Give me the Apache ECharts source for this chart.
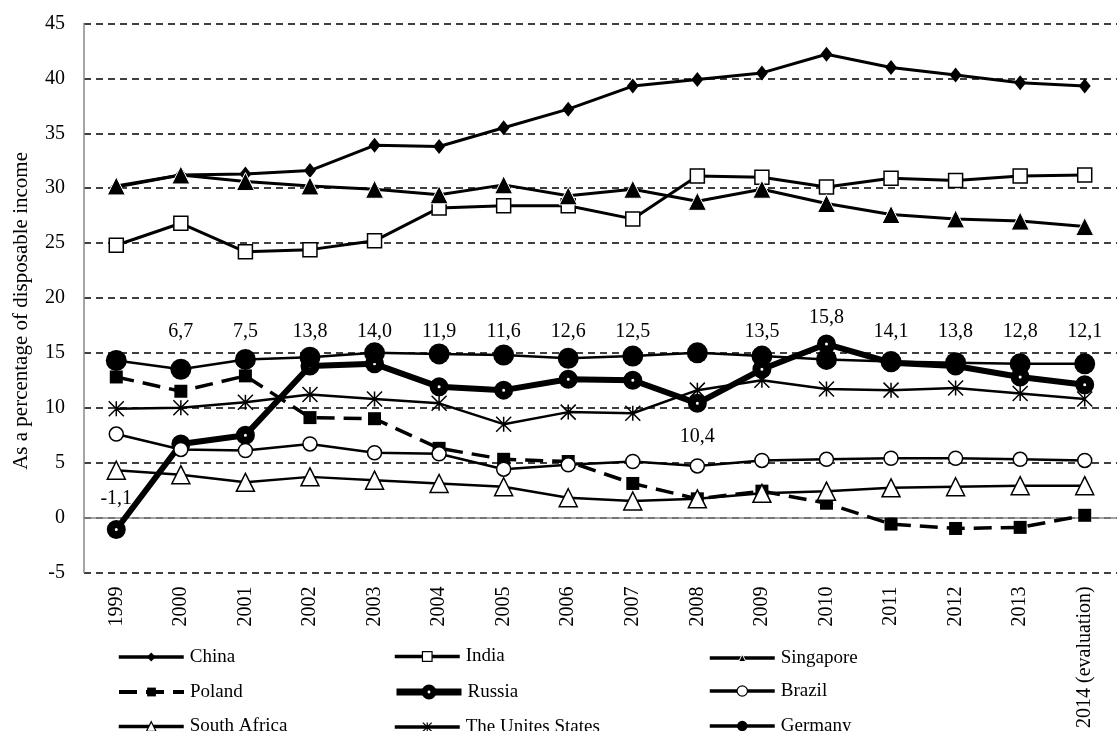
<!DOCTYPE html>
<html>
<head>
<meta charset="utf-8">
<script src="https://cdn.jsdelivr.net/npm/echarts@6/dist/echarts.min.js"></script>
<style>
html,body{margin:0;padding:0;background:#fff;}
#chart{width:1117px;height:731px;}
</style>
</head>
<body>
<div id="chart"></div>
<script>
const years = ['1999','2000','2001','2002','2003','2004','2005','2006','2007','2008','2009','2010','2011','2012','2013','2014 (evaluation)'];
const yTicks = {min: -5, max: 45, step: 5};
const yTitle = 'As a percentage of disposable income';

const china     = [30.1, 31.2, 31.3, 31.6, 33.9, 33.8, 35.5, 37.2, 39.3, 39.9, 40.5, 42.2, 41.0, 40.3, 39.6, 39.3];
const india     = [24.8, 26.8, 24.2, 24.4, 25.2, 28.2, 28.4, 28.4, 27.2, 31.1, 31.0, 30.1, 30.9, 30.7, 31.1, 31.2];
const singapore = [30.2, 31.2, 30.6, 30.2, 29.9, 29.4, 30.3, 29.3, 29.9, 28.8, 29.9, 28.6, 27.6, 27.2, 27.0, 26.5];
const poland    = [12.8, 11.5, 12.9, 9.1, 9.0, 6.3, 5.3, 5.1, 3.1, 1.7, 2.4, 1.3, -0.6, -1.0, -0.9, 0.2];
const russia    = [-1.1, 6.7, 7.5, 13.8, 14.0, 11.9, 11.6, 12.6, 12.5, 10.4, 13.5, 15.8, 14.1, 13.8, 12.8, 12.1];
const brazil    = [7.6, 6.2, 6.1, 6.7, 5.9, 5.8, 4.4, 4.8, 5.1, 4.7, 5.2, 5.3, 5.4, 5.4, 5.3, 5.2];
const southAfrica = [4.3, 3.9, 3.2, 3.7, 3.4, 3.1, 2.8, 1.8, 1.5, 1.7, 2.2, 2.4, 2.7, 2.8, 2.9, 2.9];
const usa       = [9.9, 10.0, 10.5, 11.2, 10.8, 10.4, 8.5, 9.6, 9.5, 11.6, 12.5, 11.7, 11.6, 11.8, 11.3, 10.8];
const germany   = [14.3, 13.5, 14.4, 14.6, 15.0, 14.9, 14.8, 14.5, 14.7, 15.0, 14.7, 14.4, 14.2, 14.1, 14.0, 14.0];

const FONT = 'Liberation Serif';
const BLACK = '#000';
const asterisk = 'path://M5 0 L5 10 M0 0 L10 10 M10 0 L0 10';

function fmt(v){ return v.toFixed(1).replace('.', ','); }

// style per series: symbol, size, line width, fill, border, legend icon height
const styles = {
  'China':            {symbol:'diamond', size:[12,15], width:3, fill:BLACK, lh:11, lw:3.5},
  'India':            {symbol:'rect', size:14, width:3, fill:'#fff', bw:1.5, lh:12, lw:3.5},
  'Singapore':        {symbol:'triangle', size:18, width:3, fill:BLACK, border:'#fff', bw:1, lh:9, lw:3.5},
  'Poland':           {symbol:'rect', size:13, width:3.5, fill:BLACK, dash:[18,9], lh:11, lw:4},
  'Russia':           {symbol:'circle', size:11, width:6, fill:'#fff', bw:8, lh:11, lw:7, lfill:'#fff', lbw:6},
  'Brazil':           {symbol:'circle', size:14, width:2.5, fill:'#fff', bw:1.5, lh:13, lw:3.5},
  'South Africa':     {symbol:'triangle', size:18, width:2.5, fill:'#fff', bw:1.5, lh:12, lw:3.5},
  'The Unites States':{symbol:asterisk, size:15, width:2.5, fill:BLACK, bw:1.5, lh:11, lw:3.5},
  'Germany':          {symbol:'circle', size:21, width:2.5, fill:BLACK, lh:13, lw:3.5}
};
const seriesData = [
  ['China', china], ['India', india], ['Singapore', singapore],
  ['Poland', poland], ['Russia', russia], ['Brazil', brazil],
  ['South Africa', southAfrica], ['The Unites States', usa], ['Germany', germany]
];

const series = seriesData.map(function(p){
  const o = styles[p[0]];
  return {
    name: p[0], type: 'line', data: p[1],
    symbol: o.symbol, symbolSize: o.size,
    lineStyle: {color: BLACK, width: o.width, type: o.dash || 'solid'},
    itemStyle: {color: o.fill, borderColor: o.border || BLACK, borderWidth: o.bw || 0},
    emphasis: {disabled: true},
    animation: false
  };
});

// legend: 3 columns x 3 rows, row-major order
const legendCols = [117, 393, 708];
const legendRows = [653, 688, 723];
const legends = seriesData.map(function(p, i){
  const o = styles[p[0]];
  const h = o.lh;
  return {
    left: legendCols[i % 3], top: legendRows[Math.floor(i / 3)] - h / 2,
    padding: 0, itemWidth: 65, itemHeight: h, itemGap: 6,
    selectedMode: false,
    textStyle: {fontFamily: FONT, fontSize: 19, color: BLACK, padding: [0,0,0,1]},
    data: [{
      name: p[0],
      itemStyle: {color: o.lfill || o.fill, borderColor: o.border || BLACK, borderWidth: o.lbw != null ? o.lbw : (o.bw ? Math.min(o.bw, 1.2) : 0)},
      lineStyle: {color: BLACK, width: o.lw, type: o.dash || 'solid'}
    }]
  };
});

const option = {
  backgroundColor: '#fff',
  animation: false,
  grid: {left: 84, right: -11, top: 23.5, bottom: 111, containLabel: false},
  legend: legends,
  xAxis: {
    type: 'category', data: years, boundaryGap: true,
    axisLine: {onZero: true, lineStyle: {color: '#888', width: 1.5}},
    axisTick: {show: false},
    axisLabel: {rotate: 90, interval: 0, margin: 14, fontFamily: FONT, fontSize: 20, color: BLACK}
  },
  yAxis: {
    type: 'value', min: yTicks.min, max: yTicks.max, interval: yTicks.step,
    name: yTitle, nameLocation: 'middle', nameGap: 52,
    nameTextStyle: {fontFamily: FONT, fontSize: 21, color: BLACK, padding: [0, 26, 0, 0]},
    axisLine: {show: true, lineStyle: {color: '#888', width: 1.5}},
    axisTick: {show: false},
    axisLabel: {margin: 19, fontFamily: FONT, fontSize: 20, color: BLACK},
    splitLine: {show: true, lineStyle: {color: BLACK, width: 1.5, type: [7, 5]}}
  },
  series: series
};

const chart = echarts.init(document.getElementById('chart'), null, {renderer: 'canvas'});
chart.setOption(option);

// place Russia's value labels (row above the lines, a few exceptions)
const pxPerUnit = Math.abs(chart.convertToPixel({yAxisIndex: 0}, 0) - chart.convertToPixel({yAxisIndex: 0}, 1));
function anchor(i){
  const v = russia[i];
  if (v < 0) return v + 2.8;
  const prev = i > 0 ? russia[i-1] : Infinity, next = i < russia.length-1 ? russia[i+1] : Infinity;
  if (v < prev && v < next && v < 11) return v - 3.0;
  if (v > 15) return v + 2.4;
  return 16.9;
}
const russiaData = russia.map(function(v, i){
  return {value: v, label: {show: true, position: 'inside', offset: [0, -(anchor(i) - v) * pxPerUnit],
    formatter: fmt(v), fontFamily: FONT, fontSize: 20, color: BLACK}};
});
chart.setOption({series: [{}, {}, {}, {}, {data: russiaData}]});
</script>
</body>
</html>
